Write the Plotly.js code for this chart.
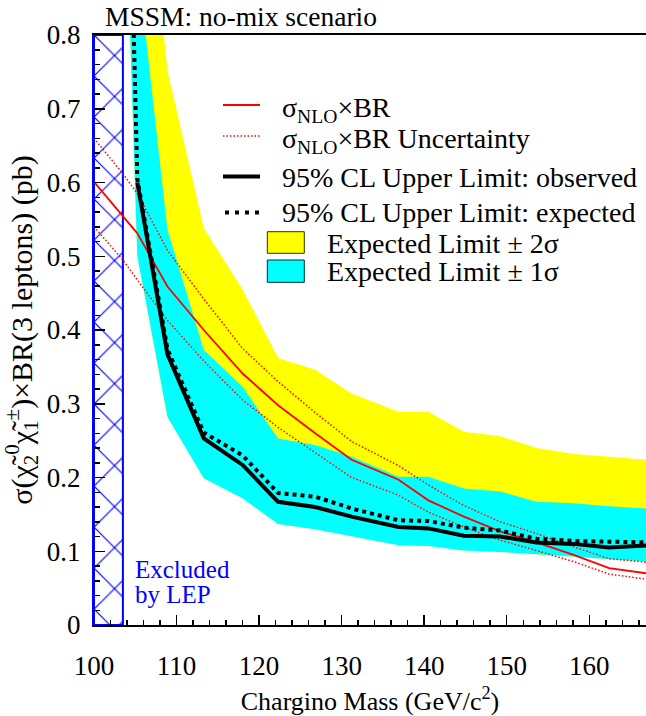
<!DOCTYPE html>
<html>
<head>
<meta charset="utf-8">
<script src="https://cdn.plot.ly/plotly-3.0.1.min.js"></script>
<style>html,body{margin:0;padding:0;background:#fff;}</style>
</head>
<body>
<div id="chart" style="width:646px;height:716px;"></div>
<script>
// ---- data ----
const lepExcludedMass = [100, 103.5];
const massLimits = [104.0, 105.25, 108.9, 113.3, 118.0, 122.3, 126.8, 131.2, 136.9, 140.5, 144.8, 149.2, 153.6, 158.1, 162.4, 167.0];
const expectedLimit = [1.17, 0.605, 0.374, 0.261, 0.230, 0.179, 0.174, 0.158, 0.142, 0.141, 0.132, 0.128, 0.117, 0.114, 0.113, 0.112];
const sigma1Low = [0.93, 0.500, 0.282, 0.199, 0.172, 0.137, 0.130, 0.120, 0.108, 0.107, 0.101, 0.099, 0.096, 0.093, 0.089, 0.086];
const sigma1High = [1.40, 0.90, 0.536, 0.373, 0.323, 0.253, 0.244, 0.228, 0.201, 0.201, 0.185, 0.181, 0.167, 0.165, 0.161, 0.158];
const sigma2High = [1.80, 1.15, 0.752, 0.538, 0.455, 0.362, 0.346, 0.314, 0.289, 0.289, 0.262, 0.256, 0.240, 0.232, 0.228, 0.224];
const massObserved = [105.25, 108.9, 113.3, 118.0, 122.3, 126.8, 131.2, 136.9, 140.5, 144.8, 149.2, 153.6, 158.1, 162.4, 167.0];
const observedLimit = [0.600, 0.367, 0.253, 0.217, 0.167, 0.160, 0.147, 0.133, 0.131, 0.121, 0.120, 0.112, 0.110, 0.105, 0.108];
const massTheory = [100, 103.5, 105.25, 108.9, 113.3, 118.0, 122.3, 126.8, 131.2, 136.9, 140.5, 144.8, 149.2, 153.6, 158.1, 162.4, 167.0];
const sigmaNLO = [0.601, 0.554, 0.531, 0.459, 0.400, 0.341, 0.298, 0.260, 0.224, 0.197, 0.169, 0.147, 0.127, 0.112, 0.095, 0.077, 0.070];
const sigmaNLOHigh = [0.660, 0.612, 0.585, 0.508, 0.442, 0.375, 0.330, 0.288, 0.249, 0.216, 0.190, 0.162, 0.140, 0.124, 0.106, 0.090, 0.085];
const sigmaNLOLow = [0.540, 0.495, 0.468, 0.413, 0.358, 0.305, 0.268, 0.233, 0.200, 0.176, 0.153, 0.133, 0.115, 0.101, 0.086, 0.069, 0.062];
const yRange = [0, 0.8];
const xRange = [100, 166.87];

const legendLabels = [
  "σ<sub>NLO</sub>×BR",
  "σ<sub>NLO</sub>×BR Uncertainty",
  "95% CL Upper Limit: observed",
  "95% CL Upper Limit: expected",
  "Expected Limit ± 2σ",
  "Expected Limit ± 1σ"
];

const FONT = '"Liberation Serif", "Times New Roman", Times, serif';
const YELLOW = '#ffff00', CYAN = '#00ffff', RED = '#ff0000', BLUE = '#0000ff';

// LEP excluded box (polygon built from the excluded mass interval and y range)
const lepX = [lepExcludedMass[0], lepExcludedMass[1], lepExcludedMass[1], lepExcludedMass[0], lepExcludedMass[0]];
const lepY = [yRange[0], yRange[0], yRange[1], yRange[1], yRange[0]];

const traces = [
  {x: lepX, y: lepY, mode: 'lines', fill: 'toself', fillcolor: 'white',
   fillpattern: {shape: 'x', fgcolor: BLUE, bgcolor: 'white', size: 29, solidity: 0.08},
   line: {color: BLUE, width: 2}, hoverinfo: 'skip', showlegend: false},
  // +-2 sigma band (yellow)
  {x: massLimits, y: sigma1Low, mode: 'lines', line: {width: 0, color: YELLOW}, showlegend: false, hoverinfo: 'skip'},
  {x: massLimits, y: sigma2High, mode: 'lines', fill: 'tonexty', fillcolor: YELLOW, line: {width: 0, color: YELLOW}, showlegend: false, name: legendLabels[4]},
  // +-1 sigma band (cyan)
  {x: massLimits, y: sigma1Low, mode: 'lines', line: {width: 0, color: CYAN}, showlegend: false, hoverinfo: 'skip'},
  {x: massLimits, y: sigma1High, mode: 'lines', fill: 'tonexty', fillcolor: CYAN, line: {width: 0, color: CYAN}, showlegend: false, name: legendLabels[5]},
  // theory
  {x: massTheory, y: sigmaNLOHigh, mode: 'lines', line: {color: RED, width: 1.5, dash: '1.5px,2px'}, showlegend: false, name: legendLabels[1]},
  {x: massTheory, y: sigmaNLOLow, mode: 'lines', line: {color: RED, width: 1.5, dash: '1.5px,2px'}, showlegend: false, name: legendLabels[1]},
  {x: massTheory, y: sigmaNLO, mode: 'lines', line: {color: RED, width: 1.8}, showlegend: false, name: legendLabels[0]},
  // limits
  {x: massLimits, y: expectedLimit, mode: 'lines', line: {color: 'black', width: 4, dash: '4px,4px'}, showlegend: false, name: legendLabels[3]},
  {x: massObserved, y: observedLimit, mode: 'lines', line: {color: 'black', width: 4}, showlegend: false, name: legendLabels[2]}
];

// manual legend (paper coordinates)
const px2x = p => (p - 94) / 552;
const py2y = p => (625 - p) / 590;
const legShapes = [
  {type: 'line', xref: 'paper', yref: 'paper', x0: px2x(223), x1: px2x(260), y0: py2y(105), y1: py2y(105), line: {color: RED, width: 1.8}},
  {type: 'line', xref: 'paper', yref: 'paper', x0: px2x(223), x1: px2x(260), y0: py2y(136), y1: py2y(136), line: {color: RED, width: 1.5, dash: '1.5px,2px'}},
  {type: 'line', xref: 'paper', yref: 'paper', x0: px2x(223), x1: px2x(260), y0: py2y(176.5), y1: py2y(176.5), line: {color: 'black', width: 4}},
  {type: 'line', xref: 'paper', yref: 'paper', x0: px2x(225), x1: px2x(261), y0: py2y(212.5), y1: py2y(212.5), line: {color: 'black', width: 4, dash: '4px,6px'}},
  {type: 'rect', xref: 'paper', yref: 'paper', x0: px2x(267.3), x1: px2x(304.3), y0: py2y(231.7), y1: py2y(253.3), fillcolor: YELLOW, line: {color: '#333300', width: 1}},
  {type: 'rect', xref: 'paper', yref: 'paper', x0: px2x(267.3), x1: px2x(304.3), y0: py2y(260), y1: py2y(282.3), fillcolor: CYAN, line: {color: '#003333', width: 1}}
];
const legTextPos = [[280, 109], [280, 140], [280, 177], [280, 212], [325, 243], [325, 271]];
const annotations = legendLabels.map((t, i) => ({
  text: t, xref: 'paper', yref: 'paper', x: px2x(legTextPos[i][0]), y: py2y(legTextPos[i][1]),
  xanchor: 'left', yanchor: 'middle', showarrow: false, font: {family: FONT, size: 28, color: 'black'}
}));
annotations.push({text: 'Excluded', xref: 'x', yref: 'y', x: 104.76, y: 0.0746, xanchor: 'left', yanchor: 'middle', showarrow: false, font: {family: FONT, size: 25, color: BLUE}});
annotations.push({text: 'by LEP', xref: 'x', yref: 'y', x: 104.76, y: 0.042, xanchor: 'left', yanchor: 'middle', showarrow: false, font: {family: FONT, size: 25, color: BLUE}});

const layout = {
  width: 646, height: 716,
  margin: {l: 94, r: 0, t: 35, b: 91, pad: 0},
  paper_bgcolor: 'white', plot_bgcolor: 'white',
  font: {family: FONT, color: 'black'},
  showlegend: false,
  title: {text: 'MSSM: no-mix scenario', x: 105 / 646, xref: 'container', xanchor: 'left',
          y: 1 - 16 / 716, yref: 'container', yanchor: 'middle', font: {family: FONT, size: 27.5, color: 'black'}},
  xaxis: {
    range: xRange, tick0: 100, dtick: 10, ticks: 'inside', ticklen: 10, tickwidth: 1.5, tickcolor: 'black',
    minor: {dtick: 2, ticks: 'inside', ticklen: 5, tickwidth: 1.5, tickcolor: 'black'},
    showline: true, linecolor: 'black', linewidth: 2, mirror: true, showgrid: false, zeroline: false,
    tickfont: {family: FONT, size: 27, color: 'black'}, ticklabelstandoff: 16,
    title: {text: 'Chargino Mass (GeV/c<sup>2</sup>)', font: {family: FONT, size: 26, color: 'black'}, standoff: 12},
    automargin: false
  },
  yaxis: {
    range: yRange, tick0: 0, dtick: 0.1, ticks: 'inside', ticklen: 11, tickwidth: 1.5, tickcolor: 'black',
    minor: {dtick: 0.02, ticks: 'inside', ticklen: 6, tickwidth: 1.5, tickcolor: 'black'},
    showline: true, linecolor: BLUE, linewidth: 2, mirror: false, showgrid: false, zeroline: false,
    tickfont: {family: FONT, size: 27, color: 'black'}, ticklabelstandoff: 6,
    title: {text: 'σ(χ̃<sub>2</sub><sup>0</sup>χ̃<sub>1</sub><sup>±</sup>)×BR(3 leptons) (pb)', font: {family: FONT, size: 30, color: 'black'}, standoff: 6},
    automargin: false
  },
  shapes: legShapes,
  annotations: annotations
};

Plotly.newPlot('chart', traces, layout, {displayModeBar: false, staticPlot: true});
</script>
</body>
</html>
